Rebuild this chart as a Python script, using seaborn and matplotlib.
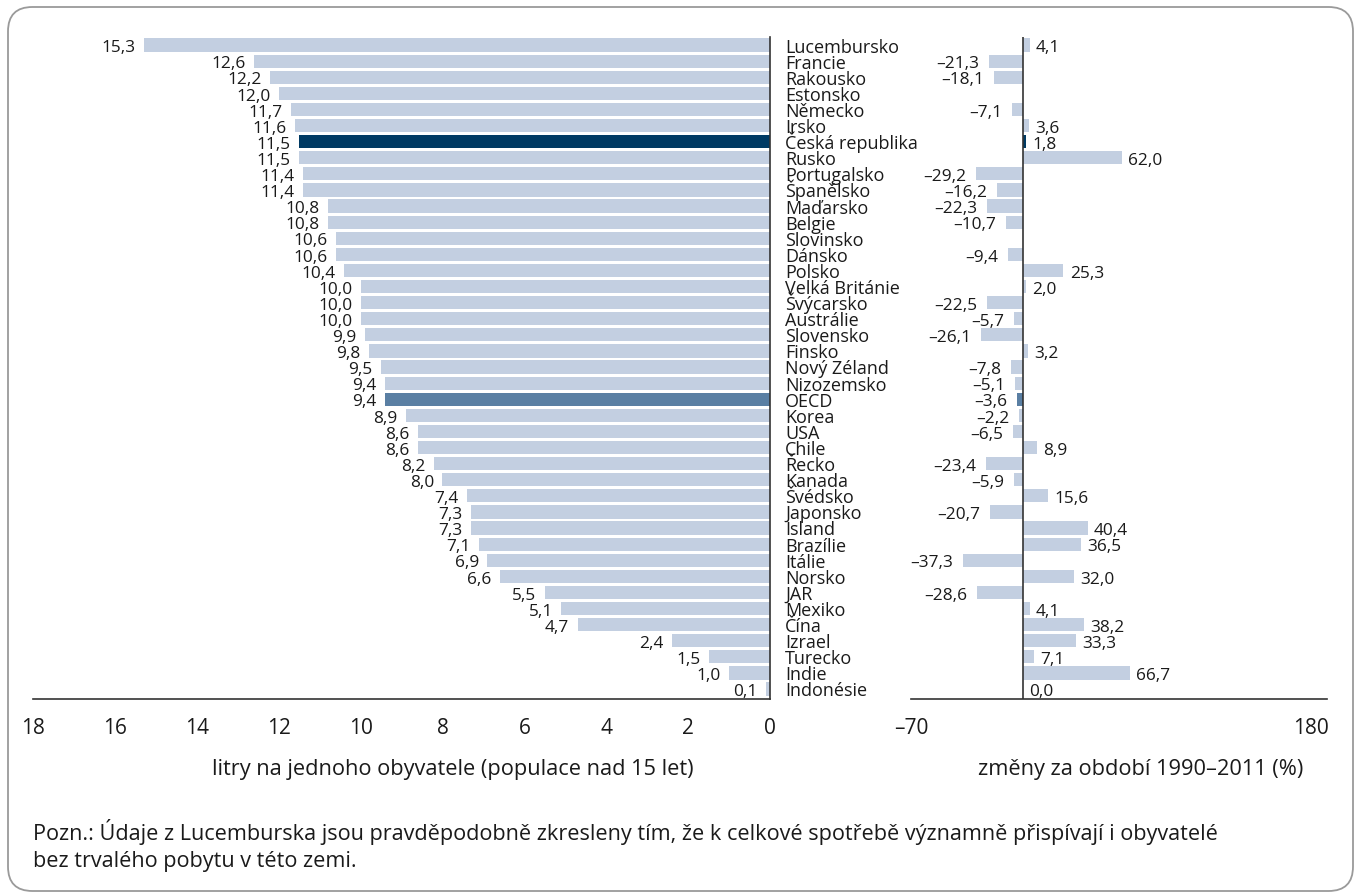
import numpy as np
import pandas as pd
import matplotlib
matplotlib.use("Agg")
import matplotlib.pyplot as plt
import matplotlib.transforms as mtransforms
from matplotlib.patches import FancyBboxPatch
import seaborn as sns

countries = ["Lucembursko", "Francie", "Rakousko", "Estonsko", "Německo", "Irsko",
             "Česká republika", "Rusko", "Portugalsko", "Španělsko", "Maďarsko", "Belgie",
             "Slovinsko", "Dánsko", "Polsko", "Velká Británie", "Švýcarsko", "Austrálie",
             "Slovensko", "Finsko", "Nový Zéland", "Nizozemsko", "OECD", "Korea", "USA",
             "Chile", "Řecko", "Kanada", "Švédsko", "Japonsko", "Island", "Brazílie",
             "Itálie", "Norsko", "JAR", "Mexiko", "Čína", "Izrael", "Turecko", "Indie",
             "Indonésie"]
litres = [15.3, 12.6, 12.2, 12.0, 11.7, 11.6, 11.5, 11.5, 11.4, 11.4, 10.8, 10.8, 10.6,
          10.6, 10.4, 10.0, 10.0, 10.0, 9.9, 9.8, 9.5, 9.4, 9.4, 8.9, 8.6, 8.6, 8.2, 8.0,
          7.4, 7.3, 7.3, 7.1, 6.9, 6.6, 5.5, 5.1, 4.7, 2.4, 1.5, 1.0, 0.1]
change = [4.1, -21.3, -18.1, np.nan, -7.1, 3.6, 1.8, 62.0, -29.2, -16.2, -22.3, -10.7,
          np.nan, -9.4, 25.3, 2.0, -22.5, -5.7, -26.1, 3.2, -7.8, -5.1, -3.6, -2.2, -6.5,
          8.9, -23.4, -5.9, 15.6, -20.7, 40.4, 36.5, -37.3, 32.0, -28.6, 4.1, 38.2, 33.3,
          7.1, 66.7, 0.0]
left_ticks = [0, 2, 4, 6, 8, 10, 12, 14, 16, 18]
right_ticks = [-70, 180]
right_ticklabels = ["–70", "180"]
left_xlabel = "litry na jednoho obyvatele (populace nad 15 let)"
right_xlabel = "změny za období 1990–2011 (%)"
note_lines = ["Pozn.: Údaje z Lucemburska jsou pravděpodobně zkresleny tím, že k celkové spotřebě "
              "významně přispívají i obyvatelé",
              "bez trvalého pobytu v této zemi."]

LIGHT = "#C3CFE1"
DARK = "#003A63"
MID = "#5A7FA3"
highlight = {"Česká republika": DARK, "OECD": MID}
palette = {c: highlight.get(c, LIGHT) for c in countries}

df = pd.DataFrame({"country": countries, "litres": litres, "change": change})

sns.set_theme(style="white")
plt.rcParams["font.family"] = ["Open Sans", "DejaVu Sans"]
TXT = "#1a1a1a"
LINE = "#333333"

W, H = 1356, 895
fig = plt.figure(figsize=(W / 100, H / 100), dpi=100)
fig.patch.set_facecolor("white")
renderer = fig.canvas.get_renderer()


def fit(text, px):
    t = fig.text(0.5, 0.5, text, fontsize=10)
    w = t.get_window_extent(renderer).width
    t.remove()
    return 10 * px / w


fs_cty = fit("Česká republika", 133)
fs_val = fit("25,3", 34)
fs_tick = 15
fs_lab = fit(left_xlabel, 480)
fs_note = fit(note_lines[0], 1179)

# border
border = FancyBboxPatch((8 / W, 3 / H), (1353 - 8) / W, (887 - 3) / H,
                        boxstyle="round,pad=0,rounding_size=0.018",
                        transform=fig.transFigure, facecolor="none",
                        edgecolor="#9a9a9a", linewidth=1.3, mutation_aspect=W / H)
fig.patches.append(border)

ax_top, ax_bot = 38, 700
axL = fig.add_axes([33 / W, 1 - ax_bot / H, (770 - 33) / W, (ax_bot - ax_top) / H])
axR = fig.add_axes([911 / W, 1 - ax_bot / H, (1327 - 911) / W, (ax_bot - ax_top) / H])

sns.barplot(data=df, x="litres", y="country", hue="country", palette=palette,
            legend=False, ax=axL, width=0.82, saturation=1, linewidth=0, edgecolor="none",
            dodge=False)
sns.barplot(data=df, x="change", y="country", hue="country", palette=palette,
            legend=False, ax=axR, width=0.82, saturation=1, linewidth=0, edgecolor="none",
            dodge=False)

n = len(countries)
for ax in (axL, axR):
    ax.set_ylim(n - 0.38, -0.5)
    ax.set_ylabel("")
    ax.set_xlabel("")
    ax.set_yticks([])
    for s in ax.spines.values():
        s.set_visible(False)
    ax.spines["bottom"].set_visible(True)
    ax.spines["bottom"].set_color(LINE)
    ax.spines["bottom"].set_linewidth(1.2)
    ax.patch.set_alpha(0)

axL.set_xlim(18, 0)
axL.set_xticks(left_ticks)
axL.set_xticklabels([str(t) for t in left_ticks])
axL.spines["right"].set_visible(True)
axL.spines["right"].set_color(LINE)
axL.spines["right"].set_linewidth(1.2)

axR.set_xlim(-70, 190)
axR.set_xticks(right_ticks)
axR.set_xticklabels(right_ticklabels)
axR.axvline(0, color=LINE, lw=1.2, zorder=5)

for ax in (axL, axR):
    ax.tick_params(axis="x", length=0, pad=13, labelsize=fs_tick, colors=TXT)


def fmt(v):
    s = f"{abs(v):.1f}".replace(".", ",")
    return ("–" + s) if v < 0 else s


# baseline offset: half cap-height below bar centre
def base_off(fs):
    return -0.36 * fs


dy_val = base_off(fs_val)
for i, v in enumerate(litres):
    tr = mtransforms.offset_copy(axL.transData, fig=fig, x=-6, y=dy_val, units="points")
    axL.text(v, i, fmt(v), transform=tr, ha="right", va="baseline", fontsize=fs_val, color=TXT)

for i, v in enumerate(change):
    if np.isnan(v):
        continue
    if v < 0:
        tr = mtransforms.offset_copy(axR.transData, fig=fig, x=-7, y=dy_val, units="points")
        axR.text(v, i, fmt(v), transform=tr, ha="right", va="baseline", fontsize=fs_val, color=TXT)
    else:
        tr = mtransforms.offset_copy(axR.transData, fig=fig, x=4.5, y=dy_val, units="points")
        axR.text(v, i, fmt(v), transform=tr, ha="left", va="baseline", fontsize=fs_val, color=TXT)

# country labels
blend = mtransforms.blended_transform_factory(fig.transFigure, axL.transData)
blend = mtransforms.offset_copy(blend, fig=fig, x=0, y=base_off(fs_cty), units="points")
for i, c in enumerate(countries):
    fig.text(785 / W, i, c, transform=blend, ha="left", va="baseline", fontsize=fs_cty, color=TXT)

fig.text(453 / W, 1 - 775 / H, left_xlabel, ha="center", va="baseline", fontsize=fs_lab, color=TXT)
fig.text(1141 / W, 1 - 775 / H, right_xlabel, ha="center", va="baseline", fontsize=fs_lab, color=TXT)
fig.text(33 / W, 1 - 840 / H, note_lines[0], ha="left", va="baseline", fontsize=fs_note, color=TXT)
fig.text(33 / W, 1 - 867 / H, note_lines[1], ha="left", va="baseline", fontsize=fs_note, color=TXT)

fig.savefig("out.png", dpi=100, facecolor="white")
